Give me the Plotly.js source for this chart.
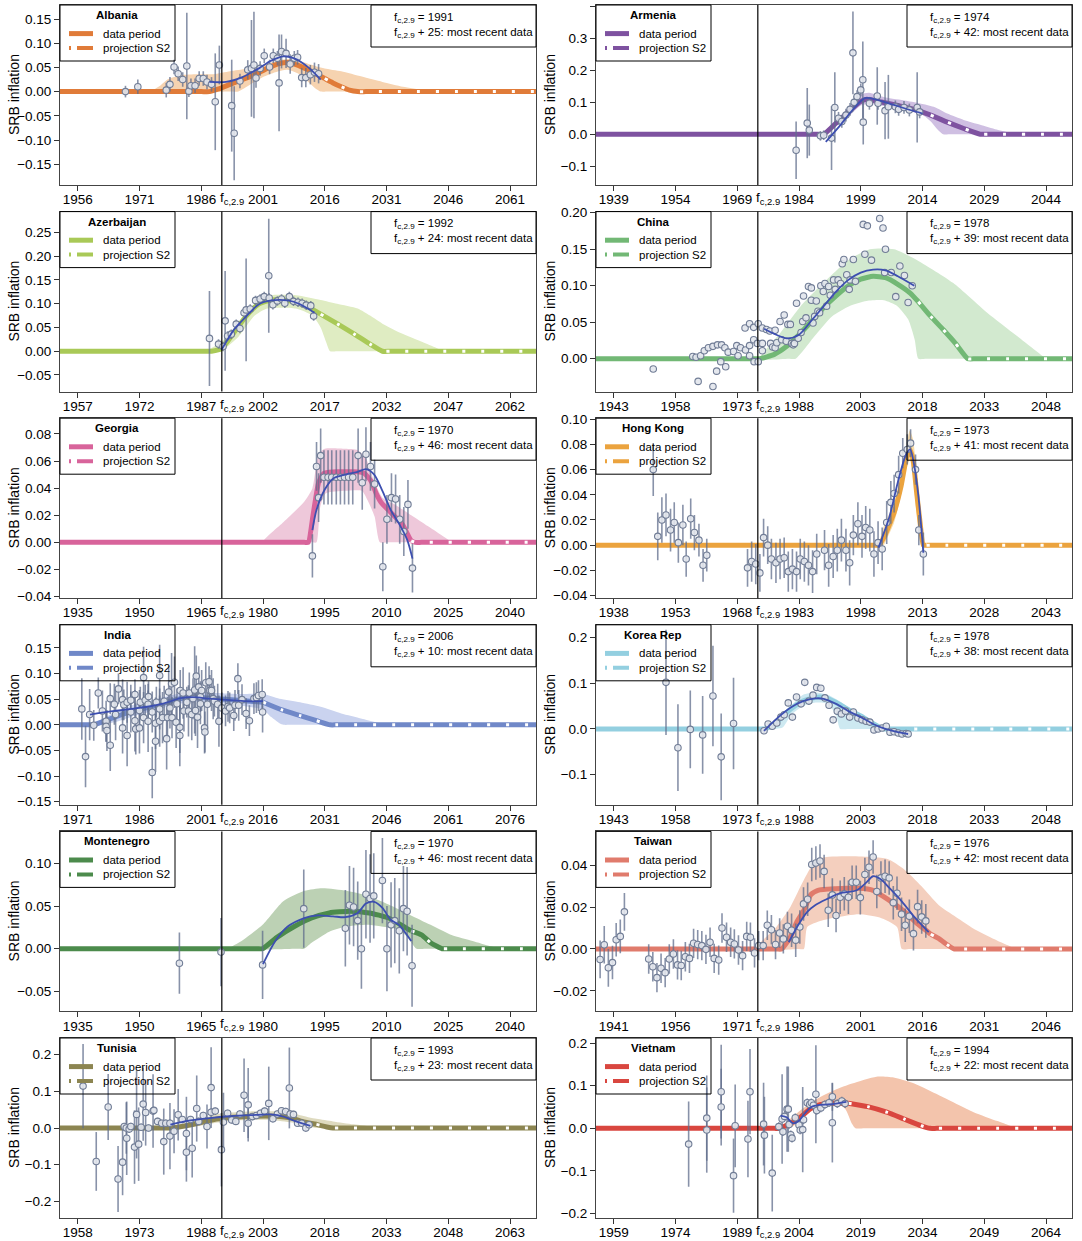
<!DOCTYPE html>
<html><head><meta charset="utf-8">
<script src="https://cdn.plot.ly/plotly-3.0.1.min.js"></script>
<style>body{margin:0;background:#fff}#chart{width:1082px;height:1241px}</style>
</head><body><div id="chart"></div>
<script>
// ---------------- DATA ----------------
const countries = ['Albania','Armenia','Azerbaijan','China','Georgia','Hong Kong','India','Korea Rep','Montenegro','Taiwan','Tunisia','Vietnam'];
const fcYear = [1991,1974,1992,1978,1970,1973,2006,1978,1970,1976,1993,1994];
const recentOffset = [25,42,24,39,46,41,10,38,46,42,23,22];
const xTickStep = 15;
const xTickFirstOffset = -35;

// Albania
const albaniaMeanYear=[1951,1986,1988,1990,1993,1996,1999,2002,2005,2007,2009,2012,2014,2016,2018,2020,2022,2024,2026,2069];
const albaniaMeanVal=[0,0,0,0.005,0.015,0.025,0.035,0.048,0.058,0.06,0.056,0.045,0.036,0.027,0.018,0.010,0.003,0,0,0];
const albaniaUpYear=[1974,1976,1978,1981,1985,1989,1993,1997,2001,2005,2008,2011,2014,2016,2020,2025,2030,2035,2040,2043];
const albaniaUpVal=[0,0.012,0.026,0.034,0.036,0.036,0.042,0.047,0.055,0.065,0.068,0.060,0.052,0.048,0.042,0.031,0.020,0.010,0.003,0];
const albaniaLoYear=[1974,1993,1995,1998,2001,2004,2007,2010,2012,2014,2015,2017,2043];
const albaniaLoVal=[0,0,0,0.015,0.03,0.04,0.045,0.035,0.02,0.005,0,0,0];
const albaniaObsYear=[1967.6,1970.6,1977.5,1978.4,1979.4,1980.4,1981.5,1982.5,1983,1983.5,1984.5,1985.5,1986.5,1987.4,1988.5,1989.4,1990.4,1993.4,1994,1995.4,1997.3,1998.2,1998.8,1999.3,2000.3,2001.3,2002.6,2003.5,2004.5,2004.9,2005.5,2006.6,2007.6,2008.6,2009.4,2010.4,2011.4,2012.5,2013.5,2014.5];
const albaniaObsVal=[0.0,0.01,0.003,0.015,0.051,0.037,0.025,0.053,0.001,0.012,0.012,0.027,0.027,0.02,0.015,-0.021,0.055,-0.029,-0.086,0.022,0.045,0.048,0.055,0.028,0.048,0.074,0.051,0.074,0.069,0.018,0.083,0.079,0.057,0.069,0.071,0.029,0.029,0.035,0.04,0.037];
const albaniaObsErr=[0.012,0.015,0.015,0.015,0.015,0.015,0.015,0.11,0.012,0.015,0.015,0.015,0.015,0.015,0.015,0.1,0.04,0.095,0.097,0.015,0.02,0.1,0.11,0.02,0.015,0.015,0.015,0.015,0.015,0.1,0.035,0.03,0.02,0.015,0.015,0.02,0.02,0.02,0.02,0.02];
const albaniaSmoothYear=[1988,1992,1996,2000,2003,2006,2009,2012,2015];
const albaniaSmoothVal=[0.02,0.02,0.03,0.048,0.064,0.073,0.067,0.05,0.025];

// Armenia
const armeniaMeanYear=[1934,1988,1990,1993,1996,1999,2000.5,2004,2008,2012,2016,2020,2024,2028,2030,2051];
const armeniaMeanVal=[0,0,0,0.035,0.07,0.103,0.11,0.101,0.09,0.078,0.06,0.038,0.018,0,0,0];
const armeniaUpYear=[1990,1993,1996,1999,2001,2005,2010,2014,2017,2020,2024,2028,2032,2036,2038];
const armeniaUpVal=[0,0.04,0.085,0.125,0.13,0.115,0.105,0.095,0.085,0.065,0.045,0.03,0.015,0.003,0];
const armeniaLoYear=[1990,1993,1996,1999,2001,2005,2010,2014,2016,2018,2019,2021,2038];
const armeniaLoVal=[0,0.03,0.055,0.09,0.095,0.088,0.075,0.06,0.04,0.01,0,0,0];
const armeniaObsYear=[1983.3,1986,1986.5,1989.2,1990,1991.9,1992.7,1993.6,1994.4,1995.4,1996.4,1997.1,1997.4,1998.1,1999,1999.5,1999.6,2001.1,2003,2003.2,2004.9,2005.7,2007.4,2008.2,2009.5,2010.8,2012.7,2013.3];
const armeniaObsVal=[-0.05,0.035,0.013,-0.005,-0.003,-0.012,0.084,0.05,0.04,0.06,0.078,0.255,0.1,0.118,0.139,0.171,0.038,0.097,0.12,0.097,0.074,0.086,0.086,0.078,0.084,0.076,0.084,0.07];
const armeniaObsErr=[0.09,0.11,0.08,0.015,0.015,0.1,0.11,0.02,0.02,0.02,0.02,0.13,0.02,0.02,0.02,0.12,0.07,0.02,0.09,0.02,0.09,0.1,0.02,0.02,0.02,0.02,0.11,0.02];
const armeniaSmoothYear=[1990.5,1994,1997,2000,2003,2007,2011,2014];
const armeniaSmoothVal=[-0.024,0.028,0.076,0.113,0.108,0.092,0.076,0.065];

// Azerbaijan
const azerbaijanMeanYear=[1952,1988,1989.5,1992,1995,1998,2001,2004,2008,2012,2016,2020,2024,2028,2031,2033,2069];
const azerbaijanMeanVal=[0,0,0,0.006,0.04,0.075,0.1,0.108,0.107,0.098,0.078,0.058,0.037,0.015,0,0,0];
const azerbaijanUpYear=[1988,1992,1996,2000,2003,2010,2016,2020,2025,2028,2031,2035,2040,2046];
const azerbaijanUpVal=[0,0.02,0.06,0.1,0.117,0.118,0.108,0.1,0.09,0.075,0.058,0.04,0.022,0];
const azerbaijanLoYear=[1992,1996,2000,2003,2010,2014,2016,2017.3,2018.3,2020,2046];
const azerbaijanLoVal=[0,0.03,0.075,0.09,0.09,0.075,0.05,0.02,0,0,0];
const azerbaijanObsYear=[1989,1991.2,1992.3,1992.8,1993.4,1994.3,1995.5,1996.4,1997.4,1997.9,1998.9,2000.2,2001.3,2002.3,2003.4,2003.5,2004.4,2005.5,2006.5,2007.3,2008.4,2009.4,2010.5,2011.5,2012.5,2013.6,2014.3];
const azerbaijanObsVal=[0.027,0.015,0.01,0.064,0.032,0.036,0.057,0.048,0.081,0.087,0.089,0.107,0.11,0.115,0.159,0.112,0.098,0.106,0.11,0.101,0.115,0.105,0.103,0.101,0.097,0.096,0.074];
const azerbaijanObsErr=[0.1,0.01,0.01,0.105,0.01,0.01,0.01,0.01,0.01,0.108,0.01,0.01,0.01,0.01,0.12,0.01,0.01,0.01,0.01,0.01,0.01,0.01,0.01,0.01,0.01,0.01,0.01];
const azerbaijanSmoothYear=[1992,1995,1998,2001,2004,2008,2011,2014.5];
const azerbaijanSmoothVal=[0.004,0.046,0.074,0.099,0.107,0.107,0.099,0.081];

// China
const chinaMeanYear=[1938,1977,1978.5,1982,1985,1988,1991,1994,1997,2000,2003,2006,2009,2012,2015,2017,2020,2023,2026,2029,2031,2055];
const chinaMeanVal=[0,0,0,0.006,0.017,0.033,0.051,0.07,0.086,0.1,0.109,0.113,0.111,0.102,0.09,0.078,0.058,0.04,0.021,0,0,0];
const chinaUpYear=[1978.5,1983.4,1988.4,1994.3,2000.2,2005.2,2011.1,2017,2025.4,2033.7,2042.1,2048];
const chinaUpVal=[0,0.035,0.072,0.106,0.136,0.15,0.15,0.134,0.104,0.063,0.026,0];
const chinaLoYear=[1978.5,1985.5,1987.2,1991.8,1996,2000.2,2004.4,2008.6,2011.9,2014.5,2016.1,2017,2019,2048];
const chinaLoVal=[0,0,0,0.031,0.058,0.072,0.079,0.08,0.072,0.054,0.026,0,0,0];
const chinaObsYear=[1952.6,1962.2,1963,1963.5,1964.1,1965,1966,1967.1,1967.1,1968,
1968.2,1969,1969.2,1970.2,1970,1970.8,1972.1,1972.9,1973.2,1973.8,
1974.9,1975,1976,1976,1976,1977,1977,1977.1,1978.1,1977.9,
1978.1,1979.1,1979.1,1979.1,1980.1,1980.9,1981.1,1981.6,1982.2,1982.2,
1982.6,1983.4,1983.8,1984.4,1984.9,1985.3,1985.9,1986.2,1986.6,1986.9,
1987.4,1987.8,1988.5,1988.9,1989.1,1989.7,1990.3,1991,1991,1991.4,
1991.8,1992.2,1992.6,1993,1993.3,1993.9,1994.3,1994.7,1995.2,1995.6,
1996.4,1996.8,1997.5,1998.1,1998.5,1998.9,1999.6,2000.2,2000.4,2001.2,
2001.7,2003.6,2004.6,2004,2005.6,2007.6,2008.4,2009,2008.8,2010.4,
2011.5,2012.5,2013.6,2014.5,2015.5];
const chinaObsVal=[-0.014,0.003,0.002,-0.031,0.004,0.011,0.015,-0.038,0.017,-0.017,
0.019,-0.004,0.019,-0.011,0.015,0.009,0.01,0.018,0.004,0.015,
0.042,0.012,0.048,0.018,0.004,0.026,0.043,-0.004,0.048,0.021,
-0.004,0.011,0.021,0.042,0.04,0.038,0.021,0.016,0.039,0.015,
0.022,0.051,0.026,0.06,0.024,0.047,0.047,0.021,0.019,0.021,
0.076,0.028,0.036,0.051,0.086,0.056,0.099,0.097,0.08,0.049,
0.058,0.079,0.065,0.063,0.1,0.092,0.103,0.072,0.099,0.087,
0.108,0.095,0.108,0.103,0.13,0.136,0.115,0.095,0.108,0.136,
0.106,0.184,0.182,0.143,0.135,0.192,0.179,0.15,0.118,0.118,
0.085,0.127,0.114,0.077,0.1];
const chinaObsErr=null;
const chinaSmoothYear=[1979.5,1982,1985,1988,1991,1994,1997,2000,2003,2006,2009,2012,2016];
const chinaSmoothVal=[0.041,0.034,0.028,0.033,0.052,0.072,0.092,0.108,0.118,0.122,0.121,0.113,0.1];

// Georgia
const georgiaMeanYear=[1930,1990,1991,1992.2,1993.5,1994.8,1997,2000,2003,2004.6,2006.3,2007.5,2008.8,2011.4,2013.9,2015.6,2016,2017,2018.5,2047];
const georgiaMeanVal=[0,0,0,0.021,0.044,0.051,0.052,0.052,0.052,0.051,0.045,0.036,0.029,0.021,0.013,0.003,0.001,0,0,0];
const georgiaUpYear=[1980,1985,1990,1992,1993.5,1995,2000,2003,2005,2007,2009,2012,2016,2020,2023,2026];
const georgiaUpVal=[0,0.015,0.03,0.04,0.065,0.069,0.069,0.068,0.062,0.045,0.033,0.028,0.02,0.012,0.006,0];
const georgiaLoYear=[1980,1992,1993,1993.9,1995.2,2000,2004,2005.4,2007.1,2008.4,2010.5,2026];
const georgiaLoVal=[0,0,0,0.026,0.036,0.038,0.038,0.031,0.019,0,0,0];
const georgiaObsYear=[1992,1993,1993.5,1994,1994.8,1995.8,1996.7,1997.8,1998.8,1999.8,2000.8,2001.8,2003.1,2004.1,2005,2006.1,2007.1,2009.1,2010.1,2011.2,2012.2,2013.2,2014.2,2015.2,2016.3];
const georgiaObsVal=[-0.01,0.056,0.033,0.064,0.048,0.048,0.048,0.048,0.048,0.048,0.048,0.048,0.064,0.044,0.065,0.056,0.043,-0.018,0.017,0.033,0.032,0.017,0.008,0.028,-0.019];
const georgiaObsErr=[0.016,0.018,0.018,0.02,0.02,0.02,0.02,0.02,0.02,0.02,0.02,0.02,0.02,0.02,0.02,0.018,0.018,0.018,0.018,0.018,0.018,0.018,0.018,0.018,0.018];
const georgiaSmoothYear=[1992,1993,1995,1997,2000,2003,2005,2007,2009,2011,2013,2015,2016.3];
const georgiaSmoothVal=[0.009,0.024,0.039,0.047,0.05,0.052,0.054,0.05,0.038,0.024,0.014,0.002,-0.012];

// Hong Kong
const hongkongMeanYear=[1933,2001,2002.3,2003.6,2006.1,2007.8,2009,2009.9,2010.7,2011.5,2012.4,2013.2,2014,2015.5,2050];
const hongkongMeanVal=[0,0,0,0.006,0.026,0.047,0.068,0.076,0.068,0.044,0.018,0,0,0,0];
const hongkongUpYear=[2002.3,2003.6,2006.1,2007.8,2009,2009.9,2010.7,2011.5,2012.4,2013.4];
const hongkongUpVal=[0,0.015,0.034,0.054,0.076,0.091,0.084,0.06,0.028,0];
const hongkongLoYear=[2003.6,2006.1,2007.8,2009,2009.9,2010.7,2011.5,2012.4,2013];
const hongkongLoVal=[0,0.018,0.04,0.06,0.068,0.055,0.028,0.007,0];
const hongkongObsYear=[1947.6,1948.7,1949.7,1950.7,1951.8,1952.7,1953.7,1954.8,1955.6,1956.7,1957.6,1958.7,1959.7,1960.6,
1970.5,1971.5,1972.5,1973.5,1974.4,1975.4,1976.3,1977.4,1978.4,1979.4,1980.4,1981.4,1982.4,1983.3,1984.3,1985.3,1986.3,1987.3,
1989.2,1990.2,1991.3,1992.3,1993.3,1994.4,1995.3,1996.2,1997.3,1998.3,1999.2,2000.2,2001.2,2002.2,2003.2,2004.3,2005.3,2006.1,2007.2,2008.2,2009.3,2010.1,2011.3,2012.1,2013.2];
const hongkongObsVal=[0.06,0.007,0.02,0.024,0.012,0.018,0.002,0.016,-0.011,0.021,0.01,0.004,-0.016,-0.008,
-0.018,-0.013,-0.015,-0.022,0.006,0.0,-0.011,-0.014,-0.011,-0.01,-0.021,-0.019,-0.021,-0.011,-0.013,-0.016,-0.021,-0.007,
-0.004,-0.016,-0.009,-0.004,0.004,-0.004,-0.014,0.008,0.017,0.007,0.014,0.012,-0.007,0.002,-0.003,0.018,0.034,0.041,0.056,0.073,0.076,0.081,0.06,0.012,-0.007];
const hongkongObsErr=[0.021,0.019,0.018,0.017,0.017,0.016,0.016,0.016,0.014,0.016,0.014,0.013,0.013,0.013,
0.015,0.016,0.016,0.015,0.015,0.015,0.016,0.016,0.016,0.016,0.016,0.016,0.016,0.016,0.016,0.016,0.017,0.016,
0.016,0.017,0.017,0.017,0.017,0.017,0.018,0.016,0.017,0.017,0.017,0.017,0.018,0.017,0.017,0.017,0.017,0.015,0.015,0.012,0.012,0.011,0.012,0.012,0.017];
const hongkongSmoothYear=[2002.3,2005,2007,2009,2010,2011,2012,2013.2];
const hongkongSmoothVal=[-0.002,0.023,0.05,0.072,0.076,0.063,0.039,-0.006];

// India
const indiaMeanYear=[1966,1973.5,1975,1980,1985,1990,1995,1998,2001,2005,2010,2016,2020.6,2025,2029,2032.3,2034,2083];
const indiaMeanVal=[0,0,0,0.015,0.028,0.038,0.049,0.054,0.053,0.051,0.048,0.044,0.029,0.018,0.008,0,0,0];
const indiaUpYear=[1975,1980,1985,1990,1995,2000,2005,2010,2016,2020,2025,2030,2035,2040,2046];
const indiaUpVal=[0,0.025,0.04,0.05,0.06,0.065,0.062,0.06,0.06,0.051,0.044,0.035,0.022,0.012,0];
const indiaLoYear=[1975,1980,1985,1990,1995,2000,2005,2010,2015,2016,2018,2020,2021,2023,2046];
const indiaLoVal=[0,0.005,0.018,0.028,0.04,0.045,0.043,0.038,0.032,0.03,0.015,0.003,0,0,0];
const indiaObsYear=[1972,1972.9,1973.9,1974.9,1976,1977,1977.9,1977.9,1978.1,1978.9,
1978.9,1979.9,1980.2,1980.9,1981.9,1981.9,1982.2,1983,1983,1983.9,
1983.9,1984.9,1984.9,1985.1,1986,1986,1986.2,1987,1987,1987.4,
1988.1,1988.1,1988.2,1989.1,1989.1,1989.9,1989.9,1990.1,1990.9,1990.9,
1990.9,1991.6,1992,1992.6,1992.8,1993.1,1993.4,1993.8,1993.9,1994.5,
1994.9,1995.1,1995.8,1995.8,1995.9,1996.6,1996.8,1997.5,1997.9,1998.1,
1998.7,1999,1999.4,1999.6,1999.8,2000.1,2000.4,2000.8,2000.8,2001.1,
2001.8,2001.9,2002.1,2002.5,2002.9,2003.1,2003.5,2003.9,2004.2,2005,
2005.3,2006,2006.9,2007.5,2007.9,2008.9,2009.2,2009.9,2010.1,2010.9,
2011.9,2012.7,2013.8,2014.4,2014.9,2015.8,2015.9];
const indiaObsVal=[0.031,-0.062,0.02,-0.001,0.062,0.027,0.007,-0.003,-0.011,-0.04,
0.051,0.04,0.02,0.07,-0.006,0.049,0.039,-0.021,0.044,0.025,
0.048,0.059,0.008,-0.008,-0.006,0.028,0.044,0.092,0.014,0.048,
0.04,0.007,0.055,-0.093,0.025,0.003,-0.032,0.044,0.007,0.031,
0.096,0.014,0.046,-0.027,0.014,0.064,0.033,0.08,0.014,0.083,
0.005,0.041,-0.021,-0.005,0.067,0.062,0.027,0.044,0.027,0.062,
0.02,0.051,0.068,0.028,0.095,0.015,0.074,0.055,0.041,0.067,
-0.006,-0.014,0.082,0.04,0.084,0.067,0.067,0.051,0.046,0.04,
0.007,0.033,0.027,0.036,0.033,0.018,0.038,0.09,0.038,0.049,
0.022,0.008,0.051,0.053,0.057,0.059,0.025];
const indiaObsErr=[0.06,0.06,0.05,0.03,0.03,0.04,0.04,0.03,0.04,0.05,
0.03,0.04,0.05,0.03,0.05,0.04,0.03,0.06,0.04,0.04,
0.03,0.03,0.06,0.05,0.05,0.04,0.03,0.06,0.05,0.03,
0.04,0.06,0.03,0.05,0.04,0.05,0.06,0.03,0.05,0.04,
0.06,0.05,0.03,0.06,0.04,0.05,0.04,0.06,0.04,0.05,
0.05,0.03,0.06,0.05,0.04,0.05,0.04,0.03,0.05,0.04,
0.05,0.04,0.085,0.05,0.04,0.06,0.04,0.03,0.04,0.04,
0.05,0.04,0.04,0.05,0.03,0.03,0.04,0.04,0.03,0.04,
0.05,0.03,0.03,0.03,0.03,0.03,0.03,0.03,0.03,0.03,
0.03,0.03,0.03,0.03,0.03,0.03,0.04];
const indiaSmoothYear=[1974,1980,1986,1992,1996,1999,2003,2008,2012,2016];
const indiaSmoothVal=[0.02,0.027,0.033,0.042,0.052,0.054,0.051,0.048,0.046,0.046];

// Korea Rep
const koreaMeanYear=[1938,1977.5,1979,1980,1982.6,1985.1,1988.5,1991.8,1994.3,1996.8,2000.2,2003.5,2006.9,2008.6,2010.5,2016,2055];
const koreaMeanVal=[0,0,0,0.001,0.015,0.037,0.059,0.069,0.069,0.059,0.041,0.026,0.007,0,0,0,0];
const koreaUpYear=[1978.5,1983,1986,1989,1992,1995,1998,2001,2004,2007,2010];
const koreaUpVal=[0,0.02,0.05,0.075,0.08,0.075,0.06,0.04,0.025,0.012,0];
const koreaLoYear=[1978.5,1984,1986,1989,1992,1995,1997,1998,2000,2010];
const koreaLoVal=[0,0.003,0.03,0.05,0.058,0.055,0.03,0,0,0];
const koreaObsYear=[1955.7,1958.6,1961.6,1964.6,1967.1,1969.1,1972.1,
1979.5,1980.5,1981.5,1982.6,1983.6,1984.4,1985.4,1986.4,1987.4,1988.5,
1989.4,1990.4,1991.4,1992.3,1993.3,1994.3,1995.3,1996.3,1997.3,1998.3,
1999.3,2000.3,2001.2,2002.3,2003.3,2004.3,2005.2,2006.2,2007.2,2008.2,
2009.2,2010.1,2011.1,2012.1,2013,2014,2014.5];
const koreaObsVal=[0.102,-0.041,-0.001,-0.013,0.072,-0.061,0.012,
-0.004,0.011,0.006,0.013,0.026,0.031,0.057,0.026,0.07,0.055,
0.102,0.061,0.074,0.091,0.089,0.068,0.052,0.02,0.039,0.033,
0.039,0.026,0.037,0.024,0.02,0.017,0.015,-0.002,0.0,0.002,
0.006,-0.007,-0.006,-0.009,-0.011,-0.01,-0.011];
const koreaObsErr=[0.115,0.095,0.085,0.085,0.11,0.095,0.1,
0.005,0.006,0.006,0.006,0.006,0.006,0.006,0.006,0.006,0.006,
0.007,0.007,0.007,0.007,0.007,0.007,0.007,0.007,0.007,0.007,
0.007,0.007,0.007,0.007,0.007,0.007,0.006,0.006,0.006,0.006,
0.006,0.005,0.005,0.005,0.005,0.005,0.005];
const koreaSmoothYear=[1979.5,1983,1986,1989,1992,1994,1997,2000,2003,2006,2009,2012,2014.5];
const koreaSmoothVal=[-0.004,0.026,0.047,0.061,0.067,0.066,0.055,0.039,0.026,0.011,0,-0.007,-0.011];

// Montenegro
const montenegroMeanYear=[1930,1978.5,1979.9,1983.3,1987.6,1991.8,1996.1,2001.2,2005.8,2010.5,2015.6,2016,2018.6,2020.7,2023.5,2025,2047];
const montenegroMeanVal=[0,0,0,0.013,0.026,0.036,0.042,0.044,0.042,0.036,0.022,0.021,0.016,0.007,0,0,0];
const montenegroUpYear=[1971.8,1974.8,1979.9,1985,1990.1,1994.4,2000.3,2005.4,2010.5,2015.6,2020.7,2025.8,2030.9,2035.2,2038.6];
const montenegroUpVal=[0,0.009,0.028,0.056,0.068,0.071,0.068,0.062,0.052,0.04,0.028,0.016,0.009,0.003,0];
const montenegroLoYear=[1971.8,1988.5,1990,1991.8,1996.1,2000.3,2005.4,2008.8,2013.1,2015.2,2017.3,2019.5,2038.6];
const montenegroLoVal=[0,0,0,0.007,0.02,0.026,0.028,0.026,0.022,0.013,0,0,0];
const montenegroObsYear=[1959.7,1969.8,1979.9,1989.9,2000,2001,2002,2003,2003.9,2005,2006,2006.9,2009,2010.1,2011.1,2012,2013.1,2014.1,2015,2016.2];
const montenegroObsVal=[-0.017,-0.004,-0.019,0.047,0.024,0.051,0.049,0.033,0.0,0.064,0.059,0.062,0.08,0.0,0.028,0.033,0.021,0.047,0.044,-0.02];
const montenegroObsErr=[0.036,0.04,0.04,0.046,0.045,0.046,0.046,0.046,0.047,0.052,0.052,0.05,0.05,0.05,0.05,0.05,0.05,0.05,0.052,0.048];
const montenegroSmoothYear=[1980,1983,1986,1990,1993,1997,2000,2003,2005,2007,2009,2011,2013,2016];
const montenegroSmoothVal=[-0.018,0.009,0.026,0.036,0.039,0.038,0.037,0.042,0.053,0.055,0.048,0.034,0.028,0.009];

// Taiwan
const taiwanMeanYear=[1936,1980.5,1981.8,1983.9,1985.5,1987.2,1988.9,1990.6,1994.8,2000.6,2004,2007.3,2011.5,2014.8,2017.4,2018,2019.9,2022,2023.6,2025,2053];
const taiwanMeanVal=[0,0,0,0.0056,0.013,0.0185,0.026,0.028,0.0287,0.029,0.028,0.024,0.018,0.012,0.008,0.007,0.005,0.002,0,0,0];
const taiwanUpYear=[1975.5,1980.5,1983.9,1987.2,1990.6,2007.3,2011.5,2015.7,2019.9,2024.1,2029.1,2034.1,2038.7];
const taiwanUpVal=[0,0.0105,0.02,0.033,0.043,0.043,0.038,0.03,0.021,0.0153,0.0089,0.004,0];
const taiwanLoYear=[1975.5,1986,1987.2,1988,1990.6,1994.8,2000.6,2005.6,2009.8,2011,2013,2038.7];
const taiwanLoVal=[0,0,0,0.0105,0.013,0.015,0.0166,0.015,0.0105,0,0,0];
const taiwanObsYear=[1937.7,1938.7,1939.7,1940.7,1941.6,1942.6,1943.6,
1949.5,1950.5,1951.5,1952.5,1953.5,1954.5,1955.5,1956.5,1957.4,1958.4,
1959.4,1960.4,1961.4,1962.4,1963.4,1964.4,1965.4,1966.5,1967.3,1968.4,
1969.4,1970.3,1971.3,1972.3,1973.3,1974.2,1975.2,1976.2,1977.3,1978.3,
1979.3,1980.3,1981.3,1982.2,1983.2,1984.2,1985.2,1986.2,1987.1,1988.1,
1989.1,1990.1,1991.1,1992.1,1993.1,1994.1,1995,1996,1997,1998,
1998.9,1999.9,2000.9,2002,2003,2004,2004.9,2005.9,2006.9,2007.9,
2008.9,2009.8,2010.9,2011.8,2012.8,2013.8,2014.8,2015.8,2016.8];
const taiwanObsVal=[-0.005,0.002,-0.009,-0.0065,0.0044,0.006,0.0177,
-0.0048,-0.0085,-0.0137,-0.0092,-0.0113,-0.0048,-0.0024,-0.0076,-0.0079,-0.0037,
-0.0045,0.0027,0.0021,0.0016,-0.0002,0.0032,-0.0045,-0.0053,0.01,0.0056,
0.0032,0.0024,-0.0005,-0.0032,0.006,0.0056,-0.0019,0.0016,0.0016,0.0113,
0.0092,0.0021,0.0076,0.0048,0.0108,0.0089,0.0042,0.0105,0.0215,0.0237,
0.0403,0.041,0.042,0.037,0.0185,0.0258,0.016,0.0247,0.0263,0.0247,
0.0318,0.0318,0.0245,0.0355,0.039,0.0439,0.0274,0.0339,0.0347,0.0339,
0.0221,0.0266,0.0166,0.0113,0.0156,0.0073,0.0202,0.0153,0.0134];
const taiwanObsErr=[0.009,0.009,0.009,0.008,0.008,0.008,0.009,
0.007,0.007,0.007,0.007,0.007,0.007,0.007,0.007,0.007,0.007,
0.007,0.007,0.007,0.007,0.007,0.007,0.007,0.007,0.007,0.007,
0.007,0.007,0.007,0.007,0.007,0.007,0.007,0.007,0.007,0.007,
0.007,0.007,0.007,0.007,0.007,0.008,0.008,0.008,0.008,0.008,
0.008,0.008,0.008,0.008,0.008,0.008,0.008,0.008,0.008,0.008,
0.008,0.008,0.008,0.008,0.008,0.008,0.008,0.008,0.008,0.008,
0.008,0.008,0.008,0.008,0.008,0.008,0.008,0.008,0.008];
const taiwanSmoothYear=[1983.5,1986,1988,1990,1993,1996,2000,2002.5,2004,2006,2008,2011,2014,2017.5];
const taiwanSmoothVal=[0.0032,0.012,0.0177,0.021,0.024,0.0266,0.028,0.032,0.0347,0.033,0.029,0.0226,0.0153,0.008];

// Tunisia
const tunisiaMeanYear=[1953,1979,1980.5,1985.6,1990.6,1995.7,2000.7,2005.7,2010,2012.5,2015.5,2016,2018.8,2020,2021.5,2070];
const tunisiaMeanVal=[0,0,0,0.009,0.022,0.029,0.032,0.032,0.027,0.018,0.011,0.01,0.002,0,0,0];
const tunisiaUpYear=[1978,1983,1988,1993,2000,2008,2012,2016,2020,2025,2030,2033];
const tunisiaUpVal=[0,0.01,0.025,0.04,0.045,0.045,0.035,0.025,0.018,0.01,0.003,0];
const tunisiaLoYear=[1978,1982,1987,1992,1995,2000,2005,2010,2014,2016,2018,2033];
const tunisiaLoVal=[0,0,0.005,0.015,0.02,0.022,0.022,0.015,0.005,0,0,0];
const tunisiaObsYear=[1959.3,1962.5,1965.4,1967.8,1968.9,1969.3,1969.8,1969.9,1970.5,1970.9,
1971.8,1972.3,1972.8,1973.4,1973.9,1974.5,1975.2,1976.3,1976.5,1977.4,
1978.4,1978.9,1979.4,1980.4,1980.4,1981.4,1982.4,1983.4,1984.4,1984.4,
1985.4,1985.8,1986.9,1987.4,1988.5,1989.4,1990.4,1990.4,1991.4,1992.9,
1993.4,1994.4,1995.4,1996.4,1997.4,1998.4,1999.4,1999.4,2000.4,2001.4,
2002.4,2003.4,2004.4,2005.4,2006.5,2007.5,2008.5,2009.4,2009.6,2010.4,
2011.4,2012.4,2013.4,2014.2];
const tunisiaObsVal=[0.114,-0.091,0.057,-0.139,-0.093,0.004,0.0,-0.028,-0.003,0.004,
-0.052,0.037,-0.044,0.002,0.065,0.042,0.0,0.046,0.048,0.018,
0.013,-0.037,0.013,-0.022,0.013,-0.009,0.036,0.023,-0.015,-0.066,
0.023,-0.055,0.053,0.018,0.034,0.004,0.11,0.043,0.046,-0.059,
0.016,0.04,0.022,0.018,0.038,0.089,0.063,0.013,0.031,0.034,
0.04,0.046,0.067,0.025,0.038,0.047,0.045,0.109,0.038,0.037,
0.013,0.013,0.0,0.009];
const tunisiaObsErr=[0.115,0.08,0.09,0.09,0.09,0.01,0.07,0.1,0.01,0.01,
0.1,0.12,0.1,0.01,0.1,0.09,0.01,0.1,0.01,0.01,
0.01,0.09,0.01,0.09,0.01,0.06,0.07,0.01,0.1,0.08,
0.01,0.08,0.09,0.01,0.01,0.06,0.11,0.01,0.01,0.1,
0.08,0.01,0.01,0.01,0.01,0.1,0.1,0.04,0.01,0.01,
0.01,0.01,0.1,0.01,0.01,0.01,0.01,0.11,0.01,0.01,
0.01,0.01,0.01,0.01];
const tunisiaSmoothYear=[1980.5,1985,1990,1995,2000,2005,2008,2011,2014.5];
const tunisiaSmoothVal=[0.009,0.02,0.027,0.032,0.035,0.037,0.031,0.018,0.006];

// Vietnam
const vietnamMeanYear=[1954,1998,1999.2,2001.7,2004.3,2006.8,2009.3,2012.7,2016,2020.7,2025.3,2029.5,2033.7,2035.8,2037.5,2071];
const vietnamMeanVal=[0,0,0,0.01,0.026,0.046,0.056,0.059,0.059,0.051,0.038,0.022,0.006,0,0,0];
const vietnamUpYear=[1995,2000.1,2004.3,2008.5,2012.7,2016.9,2022.8,2027,2032,2037.9,2046.4,2052.2,2056.9];
const vietnamUpVal=[0,0.01,0.042,0.07,0.09,0.105,0.121,0.119,0.105,0.078,0.038,0.017,0];
const vietnamLoYear=[1995,2000.1,2002.6,2005.1,2008.5,2012.7,2015.2,2016.9,2017.7,2020,2056.9];
const vietnamLoVal=[0,0,0.005,0.026,0.05,0.062,0.046,0.01,0,0,0];
const vietnamObsYear=[1977.2,1981.6,1981.6,1985.1,1985.1,1988.1,1988.5,1991.6,1992.1,1995.4,
1995.6,1997.5,1999.1,1999.9,2000.1,2000.5,2001.1,2001.4,2001.6,2002,
2002.3,2003.1,2004,2004.3,2004.9,2005.1,2006,2006.6,2007,2007.5,
2008.1,2008.3,2009.3,2010.3,2011.3,2012.1,2012.1,2013.3,2014.4,2015.2];
const vietnamObsVal=[-0.037,0.024,-0.004,0.086,0.05,-0.111,0.006,-0.025,0.086,0.01,
-0.016,-0.105,0.004,0.022,-0.008,0.028,0.045,0.045,0.009,-0.015,
-0.023,0.025,0.008,-0.004,-0.003,0.02,0.06,0.056,0.06,0.054,
0.08,0.042,0.048,0.056,0.06,0.074,0.013,0.058,0.064,0.058];
const vietnamObsErr=[0.1,0.1,0.1,0.11,0.09,0.087,0.097,0.09,0.1,0.097,
0.09,0.09,0.01,0.105,0.01,0.01,0.1,0.1,0.01,0.01,
0.01,0.01,0.01,0.01,0.1,0.01,0.01,0.01,0.01,0.01,
0.115,0.01,0.01,0.01,0.01,0.033,0.093,0.01,0.01,0.01];
const vietnamSmoothYear=[1999.5,2001,2002.5,2004,2005.5,2007,2009,2011,2013,2015.5];
const vietnamSmoothVal=[0.03,0.026,0.012,0.018,0.036,0.05,0.055,0.056,0.058,0.062];

// ---------------- STYLE / LAYOUT CONFIG ----------------
const lineColors=['#E07B39','#7E52A0','#A9C957','#72B875','#D8649B','#EBA33E','#7088C8','#93CFE0','#4C8B4C','#E07B6C','#8C8551','#D9463F'];
const bandColors=['#F6D3B0','#CFBFE2','#DFECC2','#D2E9CF','#EEC8DA','#F8DCAA','#CAD3EF','#CDE9F1','#BCD1B4','#F4CFBE','#DEDABF','#F3C4AC'];
const yRanges=[[-0.193,0.179],[-0.159,0.405],[-0.085,0.294],[-0.045,0.2015],[-0.0412,0.0916],[-0.0421,0.1008],[-0.156,0.195],[-0.166,0.228],[-0.0736,0.1377],[-0.0298,0.0561],[-0.245,0.245],[-0.2103,0.2119]];
const yDticks=[0.05,0.1,0.05,0.05,0.02,0.02,0.05,0.1,0.05,0.02,0.1,0.1];
const yFormats=['.2f','.1f','.2f','.2f','.2f','.2f','.2f','.1f','.2f','.2f','.1f','.1f'];

const series=[
 [albaniaMeanYear,albaniaMeanVal,albaniaUpYear,albaniaUpVal,albaniaLoYear,albaniaLoVal,albaniaObsYear,albaniaObsVal,albaniaObsErr,albaniaSmoothYear,albaniaSmoothVal],
 [armeniaMeanYear,armeniaMeanVal,armeniaUpYear,armeniaUpVal,armeniaLoYear,armeniaLoVal,armeniaObsYear,armeniaObsVal,armeniaObsErr,armeniaSmoothYear,armeniaSmoothVal],
 [azerbaijanMeanYear,azerbaijanMeanVal,azerbaijanUpYear,azerbaijanUpVal,azerbaijanLoYear,azerbaijanLoVal,azerbaijanObsYear,azerbaijanObsVal,azerbaijanObsErr,azerbaijanSmoothYear,azerbaijanSmoothVal],
 [chinaMeanYear,chinaMeanVal,chinaUpYear,chinaUpVal,chinaLoYear,chinaLoVal,chinaObsYear,chinaObsVal,chinaObsErr,chinaSmoothYear,chinaSmoothVal],
 [georgiaMeanYear,georgiaMeanVal,georgiaUpYear,georgiaUpVal,georgiaLoYear,georgiaLoVal,georgiaObsYear,georgiaObsVal,georgiaObsErr,georgiaSmoothYear,georgiaSmoothVal],
 [hongkongMeanYear,hongkongMeanVal,hongkongUpYear,hongkongUpVal,hongkongLoYear,hongkongLoVal,hongkongObsYear,hongkongObsVal,hongkongObsErr,hongkongSmoothYear,hongkongSmoothVal],
 [indiaMeanYear,indiaMeanVal,indiaUpYear,indiaUpVal,indiaLoYear,indiaLoVal,indiaObsYear,indiaObsVal,indiaObsErr,indiaSmoothYear,indiaSmoothVal],
 [koreaMeanYear,koreaMeanVal,koreaUpYear,koreaUpVal,koreaLoYear,koreaLoVal,koreaObsYear,koreaObsVal,koreaObsErr,koreaSmoothYear,koreaSmoothVal],
 [montenegroMeanYear,montenegroMeanVal,montenegroUpYear,montenegroUpVal,montenegroLoYear,montenegroLoVal,montenegroObsYear,montenegroObsVal,montenegroObsErr,montenegroSmoothYear,montenegroSmoothVal],
 [taiwanMeanYear,taiwanMeanVal,taiwanUpYear,taiwanUpVal,taiwanLoYear,taiwanLoVal,taiwanObsYear,taiwanObsVal,taiwanObsErr,taiwanSmoothYear,taiwanSmoothVal],
 [tunisiaMeanYear,tunisiaMeanVal,tunisiaUpYear,tunisiaUpVal,tunisiaLoYear,tunisiaLoVal,tunisiaObsYear,tunisiaObsVal,tunisiaObsErr,tunisiaSmoothYear,tunisiaSmoothVal],
 [vietnamMeanYear,vietnamMeanVal,vietnamUpYear,vietnamUpVal,vietnamLoYear,vietnamLoVal,vietnamObsYear,vietnamObsVal,vietnamObsErr,vietnamSmoothYear,vietnamSmoothVal]
];

const FONT='Liberation Sans, Arial, Helvetica, sans-serif';
const W=1082,H=1241;
const colLeft=[60,596], plotW=476, rowTop0=5, rowStep=206.6, plotH=180;
const px=v=>v/W, py=v=>1-v/H;

const data=[];
const layout={width:W,height:H,margin:{l:0,r:0,t:0,b:0},paper_bgcolor:'#fff',plot_bgcolor:'rgba(0,0,0,0)',
  showlegend:false,font:{family:FONT,color:'#000',size:13},shapes:[],annotations:[]};

countries.forEach((name,i)=>{
  const [mY,mV,uY,uV,lY,lV,oY,oV,oE,sY,sV]=series[i];
  const fc=fcYear[i], last=fc+recentOffset[i];
  const col=i%2,row=Math.floor(i/2);
  const L=colLeft[col],R=L+plotW,T=rowTop0+row*rowStep,B=T+plotH;
  const sfx=i===0?'':String(i+1);
  const xa='x'+sfx, ya='y'+sfx;
  const color=lineColors[i];

  const tv=[],tt=[];
  for(let k=0;k<8;k++){const y=fc+xTickFirstOffset+k*xTickStep; tv.push(y); tt.push(String(y));}

  const axCommon={ticks:'outside',ticklen:5,tickwidth:1,tickcolor:'#333',showline:true,mirror:true,linecolor:'#444',linewidth:1,
    showgrid:false,zeroline:false,tickfont:{size:13.5,color:'#000'},fixedrange:true};
  layout['xaxis'+sfx]=Object.assign({domain:[px(L),px(R)],anchor:ya,range:[fc-39.3,fc+76.3],tickmode:'array',tickvals:tv,ticktext:tt,ticklabelstandoff:-3},axCommon);
  layout['yaxis'+sfx]=Object.assign({domain:[py(B),py(T)],anchor:xa,range:yRanges[i],tick0:0,dtick:yDticks[i],tickformat:yFormats[i]},axCommon);

  // band
  data.push({type:'scatter',xaxis:xa,yaxis:ya,mode:'lines',hoverinfo:'skip',
    x:uY.concat(lY.slice().reverse()),y:uV.concat(lV.slice().reverse()),
    fill:'toself',fillcolor:bandColors[i],line:{width:0,shape:'spline',smoothing:0.6}});
  // mean: data period & projection
  const sx=[],sy=[],qx=[],qy=[];
  mY.forEach((y,k)=>{if(y<=last){sx.push(y);sy.push(mV[k]);} if(y>=last){qx.push(y);qy.push(mV[k]);}});
  data.push({type:'scatter',xaxis:xa,yaxis:ya,mode:'lines',hoverinfo:'skip',x:sx,y:sy,line:{color:color,width:5,shape:'spline',smoothing:0.5}});
  data.push({type:'scatter',xaxis:xa,yaxis:ya,mode:'lines',hoverinfo:'skip',x:qx,y:qy,line:{color:color,width:5,shape:'spline',smoothing:0.5}});
  data.push({type:'scatter',xaxis:xa,yaxis:ya,mode:'lines',hoverinfo:'skip',x:qx,y:qy,line:{color:'#fff',width:3,dash:'3px,16px',shape:'spline',smoothing:0.5}});
  // observations
  data.push({type:'scatter',xaxis:xa,yaxis:ya,mode:'markers',x:oY,y:oV,hoverinfo:'skip',
    error_y:oE?{type:'data',array:oE,visible:true,color:'rgba(96,110,140,0.75)',thickness:1.6,width:0}:{visible:false},
    marker:{symbol:'circle',size:6.5,color:'rgba(226,229,236,0.9)',line:{color:'#717d96',width:1.1}}});
  // smoothed observations
  data.push({type:'scatter',xaxis:xa,yaxis:ya,mode:'lines',hoverinfo:'skip',x:sY,y:sV,line:{color:'#3d4fb0',width:1.8,shape:'spline',smoothing:0.8}});

  // fc vertical line + label
  layout.shapes.push({type:'line',xref:xa,yref:ya+' domain',x0:fc,x1:fc,y0:0,y1:1,line:{color:'#000',width:1.2},layer:'above'});
  layout.annotations.push({xref:xa,yref:ya+' domain',x:fc,y:0,xanchor:'left',yanchor:'top',xshift:-4,yshift:-3,
    text:'f<sub>c,2.9</sub>',showarrow:false,font:{size:13.5}});
  // y title
  layout.annotations.push({xref:'paper',yref:'paper',x:px(col===0?14:550),y:py((T+B)/2),textangle:-90,
    text:'SRB inflation',showarrow:false,font:{size:14},xanchor:'center',yanchor:'middle'});
  // legend box
  layout.shapes.push({type:'rect',xref:'paper',yref:'paper',x0:px(L),x1:px(L+115),y0:py(T+56),y1:py(T),line:{color:'#000',width:1},fillcolor:'rgba(0,0,0,0)',layer:'above'});
  layout.annotations.push({xref:'paper',yref:'paper',x:px(L+57),y:py(T+10),text:'<b>'+name+'</b>',showarrow:false,font:{size:11.5},xanchor:'center',yanchor:'middle'});
  layout.shapes.push({type:'line',xref:'paper',yref:'paper',x0:px(L+9),x1:px(L+33),y0:py(T+28.6),y1:py(T+28.6),line:{color:color,width:5},layer:'above'});
  layout.shapes.push({type:'line',xref:'paper',yref:'paper',x0:px(L+9),x1:px(L+33),y0:py(T+43),y1:py(T+43),line:{color:color,width:4,dash:'2px,6px,16px'},layer:'above'});
  layout.annotations.push({xref:'paper',yref:'paper',x:px(L+41),y:py(T+28.6),text:'data period',showarrow:false,font:{size:11.5},xanchor:'left',yanchor:'middle'});
  layout.annotations.push({xref:'paper',yref:'paper',x:px(L+41),y:py(T+43),text:'projection S2',showarrow:false,font:{size:11.5},xanchor:'left',yanchor:'middle'});
  // fc info box
  layout.shapes.push({type:'rect',xref:'paper',yref:'paper',x0:px(R-165),x1:px(R),y0:py(T+42),y1:py(T),line:{color:'#000',width:1},fillcolor:'rgba(0,0,0,0)',layer:'above'});
  layout.annotations.push({xref:'paper',yref:'paper',x:px(R-144),y:py(T+12.6),text:'f<sub>c,2.9</sub> = '+fc,showarrow:false,font:{size:11.5},xanchor:'left',yanchor:'middle'});
  layout.annotations.push({xref:'paper',yref:'paper',x:px(R-144),y:py(T+27.6),text:'f<sub>c,2.9</sub> + '+recentOffset[i]+': most recent data',showarrow:false,font:{size:11.5},xanchor:'left',yanchor:'middle'});
});

Plotly.newPlot('chart',data,layout,{staticPlot:true,displayModeBar:false});
</script>
</body></html>
